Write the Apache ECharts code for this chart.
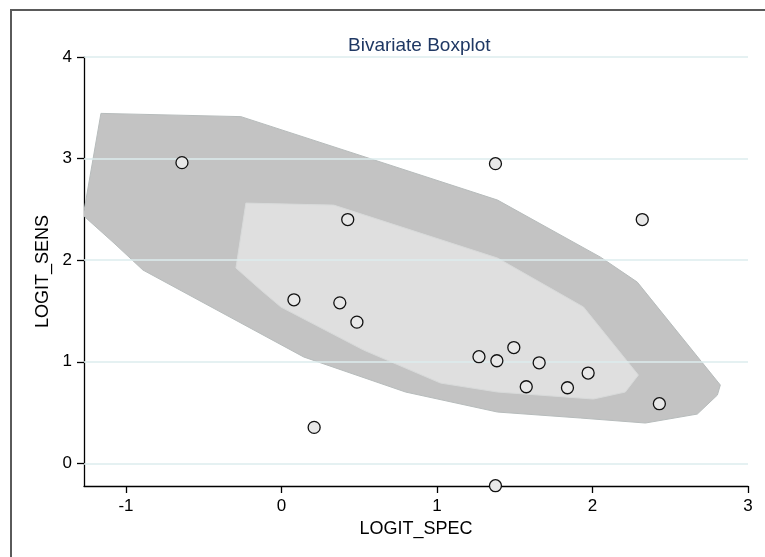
<!DOCTYPE html>
<html>
<head>
<meta charset="utf-8">
<title>Bivariate Boxplot</title>
<style>
  html, body { margin: 0; padding: 0; background: #fff; }
  #main { width: 765px; height: 557px; }
</style>
</head>
<body>
<div id="main"></div>
<script src="https://cdn.jsdelivr.net/npm/echarts@6/dist/echarts.min.js"></script>
<script>
// observed points (LOGIT_SPEC, LOGIT_SENS)
var specVals = [-0.64, 1.376, 0.426, 2.32, 0.08, 0.375, 0.485, 1.27, 1.385, 1.494, 1.657, 1.574, 1.839, 1.972, 2.43, 0.21, 1.376];
var sensVals = [2.96, 2.95, 2.40, 2.40, 1.61, 1.58, 1.39, 1.05, 1.01, 1.14, 0.99, 0.754, 0.744, 0.889, 0.587, 0.354, -0.22];

// fence (outer region)
var fenceX = [-1.161, -0.261, 1.389, 2.051, 2.288, 2.822, 2.803, 2.674, 2.340, 1.923, 1.389, 0.798, 0.143, -0.891, -1.077, -1.275];
var fenceY = [3.445, 3.413, 2.592, 2.030, 1.784, 0.771, 0.672, 0.485, 0.397, 0.446, 0.505, 0.702, 1.047, 1.903, 2.168, 2.44];

// hinge (inner region)
var hingeX = [-0.229, 0.336, 1.389, 1.942, 2.295, 2.211, 2.006, 1.389, 1.023, 0.528, -0.004, -0.133, -0.293];
var hingeY = [2.562, 2.542, 2.021, 1.539, 0.869, 0.702, 0.633, 0.702, 0.790, 1.115, 1.539, 1.706, 1.923];

var xTicks = [-1, 0, 1, 2, 3];
var yTicks = [0, 1, 2, 3, 4];

var myChart = echarts.init(document.getElementById('main'));

// draws one filled polygon from the vertex arrays
function polySeries(xs, ys, fill, stroke) {
  return {
    type: 'custom',
    coordinateSystem: 'cartesian2d',
    silent: true,
    clip: true,
    data: xs.map(function (x, i) { return [x, ys[i]]; }),
    renderItem: function (params, api) {
      if (params.dataIndex !== 0) return;
      var pts = xs.map(function (x, i) { return api.coord([x, ys[i]]); });
      return {
        type: 'polygon',
        shape: { points: pts },
        style: { fill: fill, stroke: stroke, lineWidth: 1 }
      };
    }
  };
}

var option = {
  backgroundColor: '#fff',
  animation: false,
  textStyle: { fontFamily: 'Liberation Sans, Arial, sans-serif' },
  title: {
    text: 'Bivariate Boxplot',
    left: 343,
    top: 31,
    textStyle: { color: '#1f3864', fontSize: 19, fontWeight: 'normal', fontFamily: 'Liberation Sans, Arial, sans-serif' }
  },
  graphic: [{
    type: 'polyline',
    shape: { points: [[11, 600], [11, 10], [800, 10]] },
    style: { fill: null, stroke: '#5a5a5a', lineWidth: 2 },
    silent: true
  }],
  grid: { left: 84, right: 17, top: 57, bottom: 71 },
  xAxis: {
    type: 'value',
    min: -1.27,
    max: 3,
    name: 'LOGIT_SPEC',
    nameLocation: 'middle',
    nameGap: 30,
    nameTextStyle: { color: '#000', fontSize: 18 },
    splitLine: { show: false },
    axisLine: { onZero: false, lineStyle: { color: '#000', width: 1.3 } },
    axisTick: { length: 7, lineStyle: { color: '#000', width: 1.3 }, customValues: xTicks },
    axisLabel: { color: '#000', fontSize: 17, margin: 12, customValues: xTicks }
  },
  yAxis: {
    type: 'value',
    min: -0.223,
    max: 4,
    name: 'LOGIT_SENS',
    nameLocation: 'middle',
    nameGap: 32,
    nameTextStyle: { color: '#000', fontSize: 18 },
    axisLine: { show: true, onZero: false, lineStyle: { color: '#000', width: 1.3 } },
    axisTick: { show: true, length: 7, lineStyle: { color: '#000', width: 1.3 }, customValues: yTicks },
    axisLabel: { color: '#000', fontSize: 17, margin: 12, customValues: yTicks },
    splitLine: { show: false }
  },
  series: [
    {
      // horizontal grid lines at the y ticks
      type: 'line',
      silent: true,
      data: [],
      markLine: {
        silent: true,
        symbol: 'none',
        label: { show: false },
        lineStyle: { color: '#dcecee', width: 1.5, type: 'solid' },
        data: yTicks.map(function (v) { return { yAxis: v }; })
      }
    },
    polySeries(fenceX, fenceY, '#c3c3c3', '#b7bcbc'),
    polySeries(hingeX, hingeY, '#dfdfdf', '#d8dada'),
    {
      type: 'scatter',
      clip: false,
      symbol: 'circle',
      symbolSize: 12,
      data: specVals.map(function (x, i) { return [x, sensVals[i]]; }),
      itemStyle: { color: '#e8e8e8', borderColor: '#111', borderWidth: 1.3, opacity: 1 },
      z: 5
    }
  ]
};

myChart.setOption(option);
</script>
</body>
</html>
